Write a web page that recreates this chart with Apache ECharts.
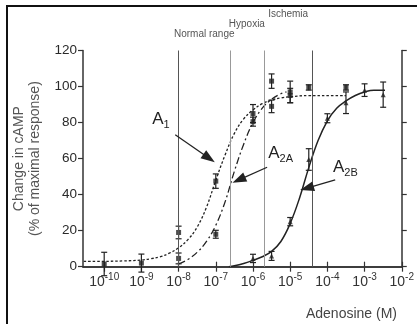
<!DOCTYPE html>
<html>
<head>
<meta charset="utf-8">
<script src="https://cdn.jsdelivr.net/npm/echarts@6/dist/echarts.min.js"></script>
<style>
html, body {margin: 0; padding: 0; background: #fff;}
#main {width: 417px; height: 324px;}
</style>
</head>
<body>
<div id="main"></div>
<script>
// x values are log10 of the adenosine concentration (M)
const decades = [-10, -9, -8, -7, -6, -5, -4, -3, -2];

// fitted curves
const a1Curve = [[-10.55, 3], [-10, 3], [-9.5, 3.2], [-9, 3.7], [-8.75, 4.4], [-8.5, 5.5], [-8.25, 7.5], [-8, 10.5],
    [-7.75, 15], [-7.5, 22], [-7.25, 33], [-7, 48], [-6.75, 62], [-6.5, 74], [-6.25, 82], [-6, 87], [-5.75, 90.5],
    [-5.5, 92.5], [-5.25, 93.7], [-5, 94.3], [-4.5, 95], [-4, 95], [-3.5, 95]];
const a2aCurve = [[-8, 1.5], [-7.75, 4], [-7.5, 8], [-7.25, 14], [-7, 23], [-6.75, 36], [-6.5, 53], [-6.25, 68],
    [-6, 80], [-5.75, 88], [-5.5, 93], [-5.25, 96], [-5.1, 97]];
const a2bCurve = [[-6.65, 0], [-6.5, 0.5], [-6.25, 1.8], [-6, 3.5], [-5.75, 5.5], [-5.5, 8.5], [-5.25, 14], [-5, 24],
    [-4.75, 38], [-4.5, 55], [-4.25, 70], [-4, 81], [-3.75, 88], [-3.5, 92], [-3.25, 95], [-3, 97], [-2.75, 98],
    [-2.45, 98]];

// measured points: [log conc, response, error]
const a1Points = [[-10, 1.5, 6.5], [-9, 2, 5], [-8, 19, 3.5], [-7, 47.5, 4], [-6, 85, 5], [-5.5, 89, 3.5],
    [-5, 97, 6], [-4.5, 99.5, 1.5], [-3.5, 99.5, 1.5]];
const a2aPoints = [[-8, 4.6, 3], [-7, 18, 2.2], [-6, 80.5, 2.5], [-5.5, 103, 4], [-5, 95, 4]];
const a2bPoints = [[-6, 4.6, 2.3], [-5.5, 6, 2.5], [-5, 25, 2.3], [-4.5, 59.5, 6], [-4, 82.4, 2.5],
    [-3.5, 91, 6], [-3, 98, 3.5], [-2.5, 95.5, 7]];

// concentration ranges shown above the plot
const boundaries = [-8, -6.62, -5.71, -4.4];
const regionNames = ['Normal range', 'Hypoxia', 'Ischemia'];

// curve labels and arrows
const curveLabels = [['1', -8.71, 81.5], ['2A', -5.59, 62.6], ['2B', -3.85, 54.8]];
const arrows = [[[-8.09, 73.2], [-7.18, 60.2]], [[-5.62, 55.2], [-6.38, 48.2]], [[-3.79, 48.2], [-4.55, 43.6]]];

const ink = '#222';
const font = 'Liberation Sans, Arial, sans-serif';

function errorBars(points) {
    return {
        type: 'custom',
        silent: true,
        data: points,
        encode: {x: 0, y: 1},
        renderItem(params, api) {
            const x = api.value(0), y = api.value(1), e = api.value(2);
            const top = api.coord([x, y + e]);
            const bot = api.coord([x, y - e]);
            const w = 3;
            const style = {stroke: ink, lineWidth: 1.2};
            return {
                type: 'group', children: [
                    {type: 'line', shape: {x1: top[0], y1: top[1], x2: bot[0], y2: bot[1]}, style},
                    {type: 'line', shape: {x1: top[0] - w, y1: top[1], x2: top[0] + w, y2: top[1]}, style},
                    {type: 'line', shape: {x1: bot[0] - w, y1: bot[1], x2: bot[0] + w, y2: bot[1]}, style},
                ]
            };
        }
    };
}

function curve(data, type, width) {
    return {
        type: 'line', data, smooth: 0.4, symbol: 'none', silent: true,
        lineStyle: {color: ink, width, type}
    };
}

function points(data, symbol, size) {
    return {
        type: 'scatter', data: data.map(p => [p[0], p[1]]), symbol, symbolSize: size, silent: true,
        itemStyle: {color: ink}
    };
}

const axisLine = {show: true, lineStyle: {color: '#333', width: 1.5}};
const axisTick = {show: true, length: 5, lineStyle: {color: '#333', width: 1.2}};

const option = {
    animation: false,
    textStyle: {fontFamily: font},
    grid: {left: 83, right: 13, top: 50.5, bottom: 57.3},
    xAxis: [{
        type: 'value', min: -10.57, max: -2, position: 'bottom',
        axisLine, axisTick: {...axisTick, customValues: decades},
        splitLine: {show: false},
        axisLabel: {
            customValues: decades, margin: 5,
            formatter: v => '{b|10}{s|' + v + '}',
            rich: {
                b: {fontSize: 14, color: '#333', lineHeight: 17, verticalAlign: 'bottom'},
                s: {fontSize: 10, color: '#333', lineHeight: 17, verticalAlign: 'bottom', padding: [0, 0, 6, 0]}
            }
        }
    }, {
        type: 'value', min: -10.57, max: -2, position: 'top',
        axisLine, axisTick: {...axisTick, customValues: decades},
        axisLabel: {show: false}, splitLine: {show: false}
    }],
    yAxis: [{
        type: 'value', min: 0, max: 120, interval: 20, position: 'left',
        axisLine, axisTick, splitLine: {show: false},
        axisLabel: {fontSize: 13.5, color: '#2a2a2a', margin: 6},
        name: 'Change in cAMP\n(% of maximal response)',
        nameLocation: 'middle', nameGap: 31,
        nameTextStyle: {fontSize: 14, lineHeight: 16, color: '#555'}
    }, {
        type: 'value', min: 0, max: 120, interval: 20, position: 'right',
        axisLine, axisTick, axisLabel: {show: false}, splitLine: {show: false}
    }],
    series: [
        curve(a1Curve, [2.5, 2], 1.3),
        curve(a2aCurve, [7, 3, 2, 3], 1.3),
        curve(a2bCurve, 'solid', 1.5),
        errorBars(a1Points),
        errorBars(a2aPoints),
        errorBars(a2bPoints),
        points(a1Points, 'rect', 5),
        points(a2aPoints, 'rect', 5),
        points(a2bPoints, 'triangle', 5),
        {
            type: 'line', data: [], silent: true,
            markLine: {
                silent: true, symbol: 'none', label: {show: false},
                data: boundaries.map((b, i) => ({
                    xAxis: b,
                    lineStyle: {type: 'solid', width: 1, color: (i === 0 || i === 3) ? '#555' : '#999'}
                })).concat(arrows.map(a => [
                    {coord: a[0], symbol: 'none', lineStyle: {type: 'solid', width: 1.3, color: ink}},
                    {coord: a[1], symbol: 'triangle', symbolSize: [10, 14]}
                ]))
            }
        }
    ]
};

const chart = echarts.init(document.getElementById('main'));
chart.setOption(option);

const toPx = p => chart.convertToPixel({seriesIndex: 0}, p);
const graphics = [{
    type: 'rect', silent: true,
    shape: {x: 7, y: 6, width: 430, height: 340},
    style: {fill: 'none', stroke: '#111', lineWidth: 2}
}, {
    type: 'text', silent: true, x: 397, y: 314,
    style: {text: 'Adenosine (M)', fontSize: 14, fontFamily: font, fill: '#444', align: 'right', verticalAlign: 'middle'}
}];
const regionY = [34, 24, 14];
regionNames.forEach((name, i) => {
    const mid = (boundaries[i] + boundaries[i + 1]) / 2;
    graphics.push({
        type: 'text', silent: true, x: toPx([mid, 0])[0], y: regionY[i],
        style: {text: name, fontSize: 10, fontFamily: font, fill: '#555', align: 'center', verticalAlign: 'middle'}
    });
});
curveLabels.forEach(([sub, x, y]) => {
    const p = toPx([x, y]);
    graphics.push({
        type: 'text', silent: true, x: p[0], y: p[1],
        style: {
            text: '{a|A}{s|' + sub + '}', fontFamily: font, fill: ink, verticalAlign: 'middle',
            rich: {
                a: {fontSize: 17, lineHeight: 22, verticalAlign: 'bottom', padding: [0, 0, 3, 0]},
                s: {fontSize: 11, lineHeight: 22, verticalAlign: 'bottom'}
            }
        }
    });
});
chart.setOption({graphic: graphics});
</script>
</body>
</html>
